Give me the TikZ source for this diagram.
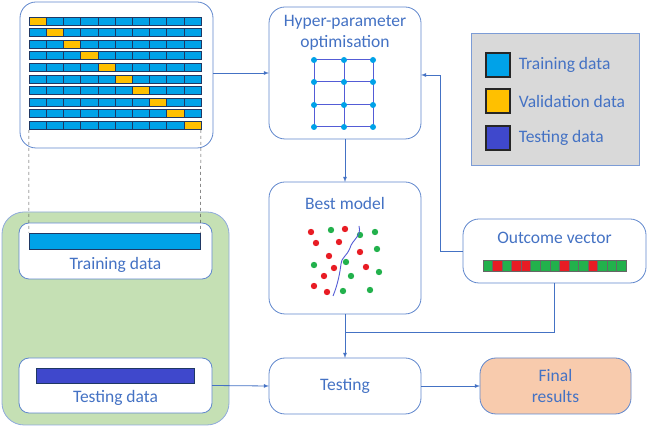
\documentclass[tikz,border=0pt]{standalone}
\usepackage{fontspec}
\setmainfont{Carlito}
\usetikzlibrary{arrows,positioning,calc}
\definecolor{mlblue}{RGB}{68,114,196}
\definecolor{mlcyan}{RGB}{0,162,232}
\definecolor{mlyellow}{RGB}{255,192,0}
\definecolor{mlnavy}{RGB}{63,72,204}
\definecolor{mlgreen}{RGB}{197,224,180}
\definecolor{mlpeach}{RGB}{248,203,173}
\definecolor{mlgrey}{RGB}{217,217,217}
\definecolor{mlred}{RGB}{232,28,36}
\definecolor{mldot}{RGB}{34,177,76}
\definecolor{mlgrid}{RGB}{84,92,214}
\definecolor{mlcell}{RGB}{31,56,100}
\tikzstyle{stage} = [rectangle, rounded corners=16pt, draw=mlblue!85, fill=white, line width=0.8pt, inner sep=0pt, outer sep=0pt]
\tikzstyle{databox} = [rectangle, rounded corners=10pt, draw=mlblue!85, fill=white, line width=0.8pt, inner sep=0pt, outer sep=0pt]
\tikzstyle{caption} = [text=mlblue, font=\fontsize{17.5}{21}\selectfont, align=center, inner sep=0pt]
\tikzstyle{arrow} = [line width=0.8pt, ->, >=latex, color=mlblue]
\tikzstyle{link} = [line width=0.8pt, color=mlblue]
\tikzstyle{cell} = [draw=mlcell, line width=0.5pt]
\tikzstyle{swatch} = [rectangle, minimum size=24pt, draw=black!85, line width=1.2pt, inner sep=0pt]

\begin{document}
\begin{tikzpicture}[x=1pt, y=-1pt]
\useasboundingbox (0,0) rectangle (649,427);

% data split
\node (folds) [stage, minimum width=193pt, minimum height=146pt] at (116.5,75) {};
\foreach \r in {0,...,9}{
  \foreach \c in {0,...,9}{
    \ifnum\c=\r \def\cellcol{mlyellow}\else\def\cellcol{mlcyan}\fi
    \draw[cell, fill=\cellcol] ({29+17.2*\c},{17+11.56*\r}) rectangle ++(17.2,8);
  }
}
\coordinate (foldsSW) at (29,130);
\coordinate (foldsSE) at (201,130);

\node (split) [rectangle, rounded corners=22pt, draw=mlblue!60, fill=mlgreen, line width=0.8pt, minimum width=227pt, minimum height=213pt] at (115.5,318.5) {};
\node (traindata) [databox, minimum width=193pt, minimum height=56pt] at (115.5,251) {};
\node (trainbar) [rectangle, fill=mlcyan, draw=mlcell, line width=0.5pt, minimum width=171pt, minimum height=16pt, inner sep=0pt] at (114.5,241) {};
\node (trainlabel) [caption] at (115.5,265) {Training data};
\node (testdata) [databox, minimum width=193pt, minimum height=55pt] at (115.5,385.5) {};
\node (testbar) [rectangle, fill=mlnavy, draw=mlcell, line width=0.5pt, minimum width=158pt, minimum height=15pt, inner sep=0pt] at (115,375.5) {};
\node (testlabel) [caption] at (115.5,398) {Testing data};

\draw[dashed, black!70, line width=0.5pt] (foldsSW) -- (trainbar.north west);
\draw[dashed, black!70, line width=0.5pt] (foldsSE) -- (trainbar.north east);

% model stages
\node (hyper) [stage, minimum width=152pt, minimum height=132pt] at (345,73) {};
\node (hyperlabel) [caption] at (345,33) {Hyper-parameter\\optimisation};
\foreach \gx in {314,344,373}
  \draw[mlgrid, line width=1pt] (\gx,60) -- (\gx,127);
\foreach \gy in {60,82,105,127}
  \draw[mlgrid, line width=1pt] (314,\gy) -- (373,\gy);
\foreach \gx in {314,344,373}
  \foreach \gy in {60,82,105,127}
    \fill[mlcyan] (\gx,\gy) circle (3pt);

\node (best) [stage, minimum width=152pt, minimum height=132pt] at (345,248) {};
\node (bestlabel) [caption] at (345,203) {Best model};
\foreach \px/\py in {311/232,345/229,316/243,339/242,329/256,360/252,334/268,366/267,324/276,314/286,327/292}
  \fill[mlred] (\px,\py) circle (3.2pt);
\foreach \px/\py in {331/230,360/235,375/232,377/249,314/265,346/262,351/276,379/272,343/291,370/290}
  \fill[mldot] (\px,\py) circle (3.2pt);
\draw[mlgrid, line width=0.9pt] (359,226) .. controls (362,236) and (352,240) .. (350,248)
  .. controls (347,256) and (341,258) .. (341,264)
  .. controls (340,272) and (338,284) .. (333,296);

\node (testing) [stage, minimum width=152pt, minimum height=56pt] at (345,386) {};
\node (testinglabel) [caption] at (345,386) {Testing};
\node (final) [stage, fill=mlpeach, minimum width=151pt, minimum height=56pt] at (555.5,386) {};
\node (finallabel) [caption] at (555.5,386) {Final\\results};

\node (outcome) [stage, minimum width=183pt, minimum height=64pt] at (554.5,251) {};
\node (outcomelabel) [caption] at (554.5,238) {Outcome vector};
\foreach \i/\col in {0/mldot,1/mlred,2/mldot,3/mlred,4/mlred,5/mldot,6/mldot,7/mldot,8/mlred,9/mldot,10/mldot,11/mlred,12/mldot,13/mldot,14/mldot}
  \draw[draw=black!60, line width=0.4pt, fill=\col] ({483+9.53*\i},260) rectangle ++(9.53,11);

% legend
\node (legend) [rectangle, draw=mlblue!70, fill=mlgrey, line width=0.8pt, minimum width=168pt, minimum height=132pt] at (555,99) {};
\node (keytrain) [swatch, fill=mlcyan] at (498,65) {};
\node (keyvalid) [swatch, fill=mlyellow] at (498,101) {};
\node (keytest) [swatch, fill=mlnavy] at (498,138) {};
\node (keytrainlabel) [caption, right=8pt of keytrain] {Training data};
\node (keyvalidlabel) [caption, right=8pt of keyvalid] {Validation data};
\node (keytestlabel) [caption, right=8pt of keytest] {Testing data};

% connectors
\draw[arrow] (folds.east |- hyper.west) -- (hyper.west);
\draw[arrow] (hyper) -- (best);
\draw[arrow] (outcome.west) -- ++(-23,0) |- ($(hyper.east)+(0,2)$);
\coordinate (join) at (best.south |- 0,332);
\draw[link] (outcome.south) |- (join);
\draw[arrow] (best.south) -- (testing.north);
\draw[arrow] (testdata.east) -- (testing.west);
\draw[arrow] (testing) -- (final);
\end{tikzpicture}
\end{document}
